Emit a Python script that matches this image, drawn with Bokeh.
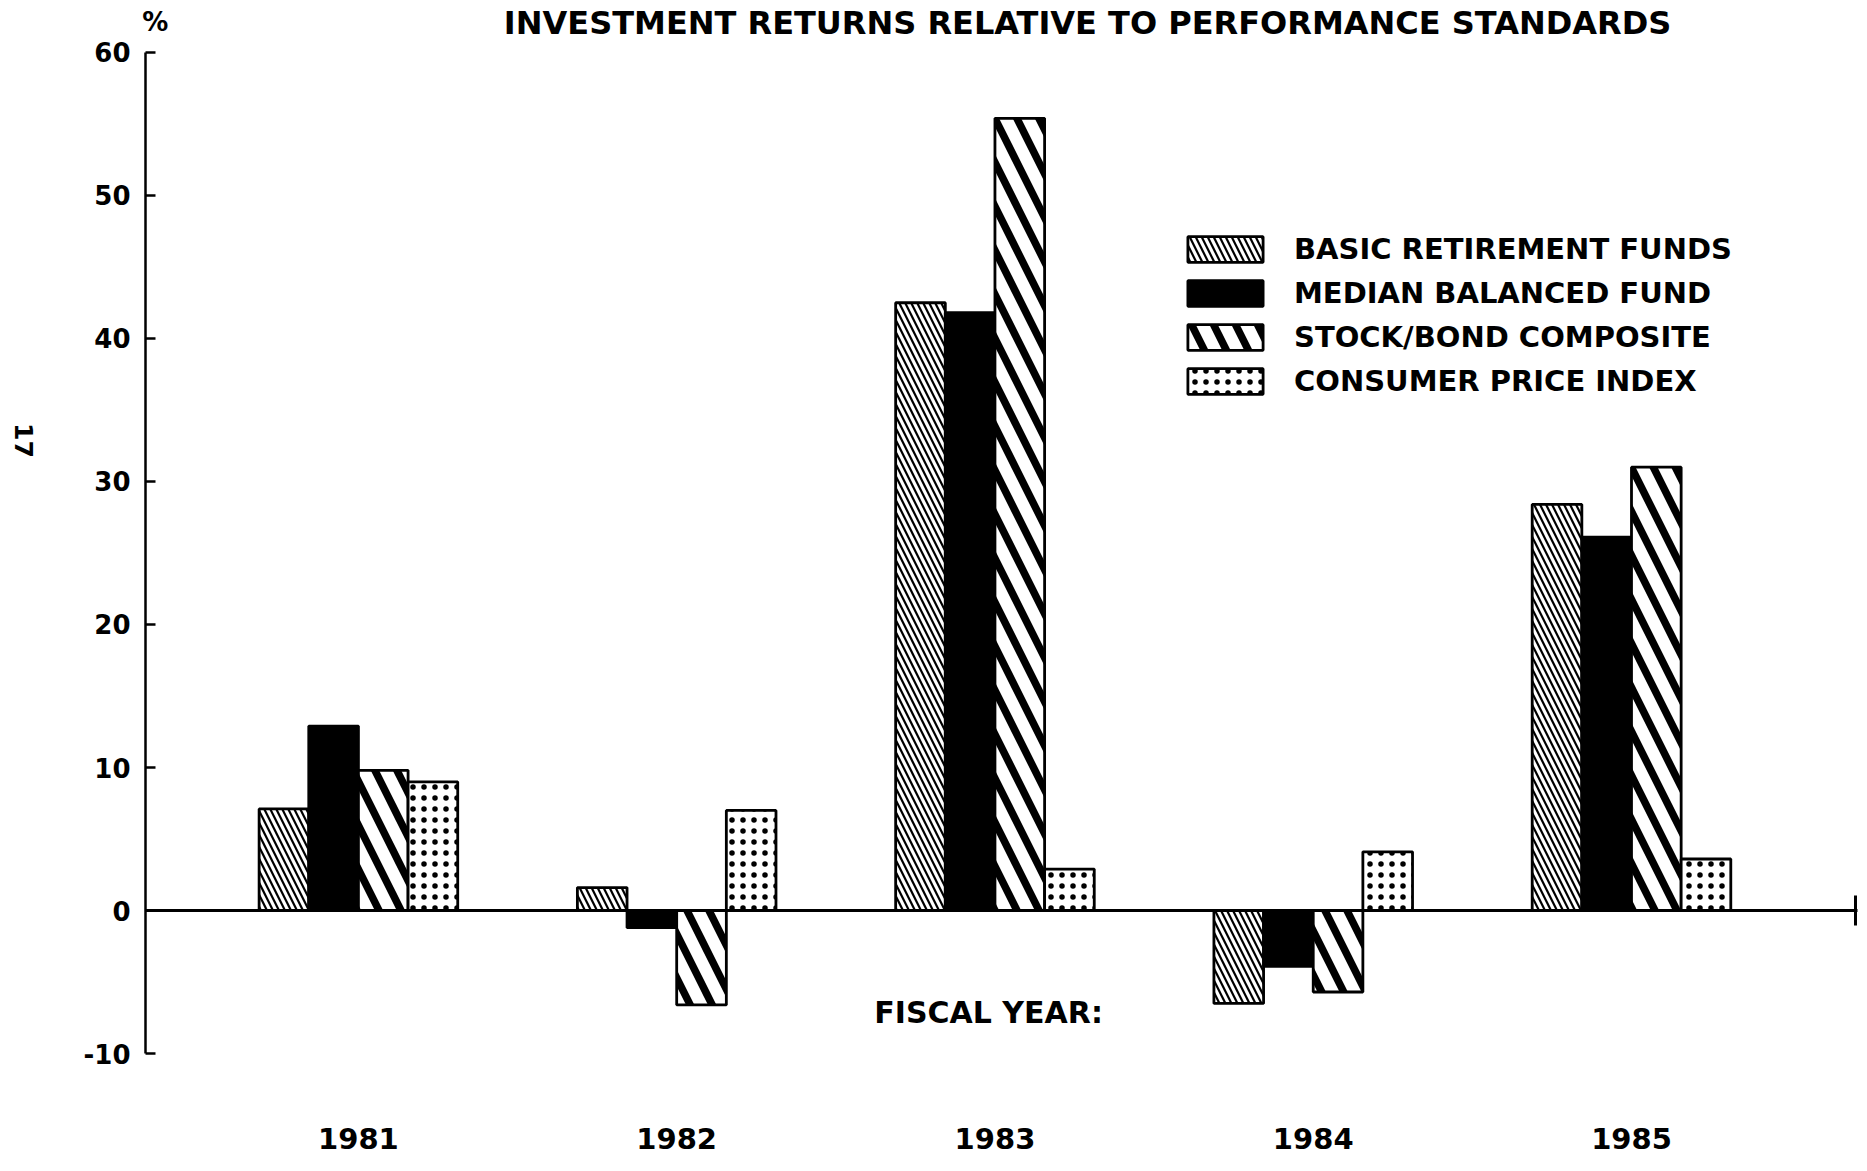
import math
from bokeh.plotting import figure
from bokeh.models import (ColumnDataSource, FixedTicker, LinearAxis, Legend,
                          LegendItem, Label, Range1d)
from bokeh.transform import dodge
from bokeh.embed import file_html
from bokeh.resources import INLINE

# ---------------- data ----------------
years = ["1981", "1982", "1983", "1984", "1985"]
basic_retirement_funds = [7.1, 1.6, 42.5, -6.5, 28.4]
median_balanced_fund = [12.9, -1.2, 41.8, -3.9, 26.1]
stock_bond_composite = [9.8, -6.6, 55.4, -5.7, 31.0]
consumer_price_index = [9.0, 7.0, 2.9, 4.1, 3.6]
series_names = ["BASIC RETIREMENT FUNDS", "MEDIAN BALANCED FUND",
                "STOCK/BOND COMPOSITE", "CONSUMER PRICE INDEX"]
y_ticks = [-10, 0, 10, 20, 30, 40, 50, 60]
y_tick_labels = ["-10", "0", "10", "20", "30", "40", "50", "60"]
y_min, y_max = -10, 60

FONT = "DejaVu Sans"

x_idx = list(range(len(years)))
source = ColumnDataSource(dict(
    x=x_idx,
    brf=basic_retirement_funds,
    mbf=median_balanced_fund,
    sbc=stock_bond_composite,
    cpi=consumer_price_index,
))

# layout: the frame covers the whole canvas; axes are placed at fixed locations
W, H = 1859, 1163
X_AXIS_START, X_AXIS_END = -0.669, 4.71
p = figure(width=W, height=H,
           x_range=Range1d(-1.1246, 4.7164), y_range=Range1d(-17.692, 63.636),
           x_axis_type=None, y_axis_type=None,
           output_backend="svg", toolbar_location=None,
           min_border_left=0, min_border_right=0,
           min_border_top=0, min_border_bottom=0)
p.outline_line_color = None
p.background_fill_color = "white"
p.border_fill_color = "white"

# ---------------- bars ----------------
cols = ["brf", "mbf", "sbc", "cpi"]
offsets = [-0.234, -0.078, 0.078, 0.234]
styles = [
    dict(fill_color="white", hatch_pattern="\\", hatch_scale=12, hatch_weight=2.2, hatch_color="black"),
    dict(fill_color="black"),
    dict(fill_color="white", hatch_pattern="\\", hatch_scale=44, hatch_weight=7.5, hatch_color="black"),
    dict(fill_color="white", hatch_pattern=".", hatch_scale=11, hatch_weight=2.5, hatch_color="black"),
]
renderers = []
for col, off, st in zip(cols, offsets, styles):
    r = p.vbar(x=dodge("x", off), top=col, bottom=0, width=0.156, source=source,
               line_color="black", line_width=2.8, **st)
    renderers.append(r)

# ---------------- axes ----------------
yax = LinearAxis(fixed_location=X_AXIS_START, bounds=(y_min, y_max),
                 ticker=FixedTicker(ticks=y_ticks),
                 major_label_overrides={t: s for t, s in zip(y_ticks, y_tick_labels)})
yax.axis_line_width = 2.5
yax.major_tick_line_width = 2.5
yax.major_tick_in = 10
yax.major_tick_out = 0
yax.minor_tick_line_color = None
yax.major_label_standoff = 15
yax.major_label_text_font = FONT
yax.major_label_text_font_style = "bold"
yax.major_label_text_font_size = "26px"
yax.major_label_text_color = "black"
p.add_layout(yax, "left")

# zero baseline with its end tick
base = LinearAxis(fixed_location=0, bounds=(X_AXIS_START, X_AXIS_END),
                  ticker=FixedTicker(ticks=[4.705]),
                  major_label_overrides={4.705: ""})
base.axis_line_width = 3
base.major_tick_line_width = 3
base.major_tick_in = 15
base.major_tick_out = 15
base.minor_tick_line_color = None
base.major_label_text_font_size = "1px"
p.add_layout(base, "below")

# fiscal-year labels
xax = LinearAxis(fixed_location=y_min, ticker=FixedTicker(ticks=x_idx),
                 major_label_overrides={i: y for i, y in zip(x_idx, years)})
xax.axis_line_color = None
xax.major_tick_line_color = None
xax.minor_tick_line_color = None
xax.major_label_standoff = 68
xax.major_label_text_font = FONT
xax.major_label_text_font_style = "bold"
xax.major_label_text_font_size = "29px"
xax.major_label_text_color = "black"
p.add_layout(xax, "below")

# ---------------- legend ----------------
legend = Legend(items=[LegendItem(label=n, renderers=[r]) for n, r in zip(series_names, renderers)],
                location=(1178, 765), orientation="vertical",
                glyph_width=94, glyph_height=32, label_standoff=22, spacing=10,
                padding=0, margin=0, border_line_color=None, background_fill_alpha=0,
                label_text_font=FONT, label_text_font_style="bold",
                label_text_font_size="29px", label_text_color="black")
p.add_layout(legend)

# ---------------- texts ----------------
def lab(text, x, y, size, angle=0.0):
    p.add_layout(Label(x=x, y=y, text=text, text_font=FONT, text_font_style="bold",
                       text_font_size=size, text_align="center", text_baseline="middle",
                       text_color="black", angle=angle))

lab("INVESTMENT RETURNS RELATIVE TO PERFORMANCE STANDARDS", 2.291, 62.03, "32px")
lab("%", -0.638, 62.1, "26px")
lab("FISCAL YEAR:", 1.98, -7.13, "30px")
lab("17", -1.052, 32.87, "25px", angle=-math.pi / 2)

open("out.html", "w").write(file_html(p, INLINE))
